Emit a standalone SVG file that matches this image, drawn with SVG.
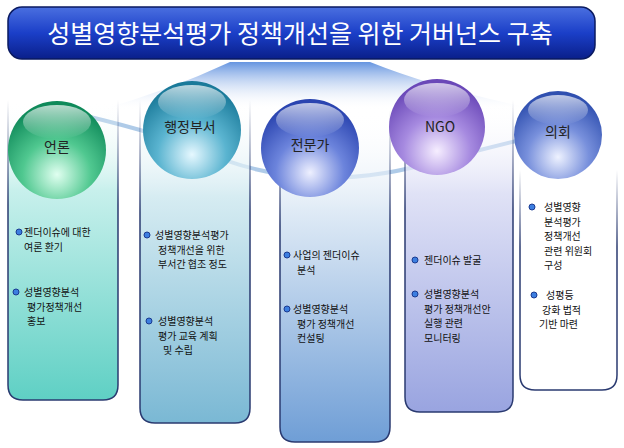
<svg xmlns="http://www.w3.org/2000/svg" width="624" height="448" viewBox="0 0 624 448">
<defs>
<linearGradient id="tg" x1="0" y1="0" x2="0" y2="1"><stop offset="0" stop-color="#4a6fe0"/><stop offset="0.5" stop-color="#1b3fc8"/><stop offset="1" stop-color="#0a1f8a"/></linearGradient>
<linearGradient id="fan" x1="0" y1="0" x2="0" y2="1"><stop offset="0" stop-color="#3f7ad8"/><stop offset="1" stop-color="#ffffff" stop-opacity="0"/></linearGradient>
<linearGradient id="c1" x1="0" y1="0" x2="0" y2="1"><stop offset="0" stop-color="#ffffff" stop-opacity="0"/><stop offset="0.3" stop-color="#c8f0ec"/><stop offset="1" stop-color="#5fd0c4"/></linearGradient>
<linearGradient id="c2" x1="0" y1="0" x2="0" y2="1"><stop offset="0" stop-color="#ffffff" stop-opacity="0"/><stop offset="0.3" stop-color="#d6ecf2"/><stop offset="1" stop-color="#7ab8d4"/></linearGradient>
<linearGradient id="c3" x1="0" y1="0" x2="0" y2="1"><stop offset="0" stop-color="#ffffff" stop-opacity="0"/><stop offset="0.3" stop-color="#e0ebf6"/><stop offset="1" stop-color="#6f9ed6"/></linearGradient>
<linearGradient id="c4" x1="0" y1="0" x2="0" y2="1"><stop offset="0" stop-color="#ffffff" stop-opacity="0"/><stop offset="0.3" stop-color="#e0e2f6"/><stop offset="1" stop-color="#99a4e0"/></linearGradient>
<linearGradient id="sk" x1="0" y1="0" x2="0" y2="1"><stop offset="0" stop-color="#2a3a70" stop-opacity="0"/><stop offset="0.35" stop-color="#2a3a70"/><stop offset="1" stop-color="#2a3a70"/></linearGradient>
<radialGradient id="s1" cx="0.5" cy="0.75" r="0.7"><stop offset="0" stop-color="#e0fff0"/><stop offset="0.5" stop-color="#50c890"/><stop offset="1" stop-color="#0f8a5a"/></radialGradient>
<radialGradient id="s2" cx="0.5" cy="0.75" r="0.7"><stop offset="0" stop-color="#e6f8ff"/><stop offset="0.5" stop-color="#5ab4d0"/><stop offset="1" stop-color="#1a7a9a"/></radialGradient>
<radialGradient id="s3" cx="0.5" cy="0.75" r="0.7"><stop offset="0" stop-color="#eef0ff"/><stop offset="0.5" stop-color="#6c84dc"/><stop offset="1" stop-color="#2a44b0"/></radialGradient>
<radialGradient id="s4" cx="0.5" cy="0.75" r="0.7"><stop offset="0" stop-color="#f6eeff"/><stop offset="0.5" stop-color="#a68ae0"/><stop offset="1" stop-color="#6a48b8"/></radialGradient>
<radialGradient id="s5" cx="0.5" cy="0.75" r="0.7"><stop offset="0" stop-color="#eef2ff"/><stop offset="0.5" stop-color="#7890dc"/><stop offset="1" stop-color="#3050b0"/></radialGradient>
<linearGradient id="hl" x1="0" y1="0" x2="0" y2="1"><stop offset="0" stop-color="#fff" stop-opacity="0.7"/><stop offset="1" stop-color="#fff" stop-opacity="0"/></linearGradient>
</defs>
<style>
text{font-family:"Noto Sans CJK KR","Liberation Sans",sans-serif;fill:#111;}
.t{font-size:10px;}
.h{font-size:14px;text-anchor:middle;fill:#222;}
.col{stroke:url(#sk);stroke-width:1.5;}
.b{fill:#3c7ee0;stroke:#1a3a90;stroke-width:1;}
</style>
<path d="M250 62 L230 62 Q170 90 100 110 L540 110 Q440 90 370 62 Z" fill="url(#fan)" opacity="0.8"/>
<g id="connectors"><path d="M60 110 Q150 130 200 150 Q310 200 440 160 Q520 140 560 130" fill="none" stroke="#7aa8d8" stroke-width="4" opacity="0.6"/></g>
<g id="title"><rect x="8" y="7" width="587" height="52" rx="14" fill="url(#tg)" stroke="#0a1a60" stroke-width="1.5"/>
<text x="300" y="43" font-size="25" text-anchor="middle" style="fill:#fff">성별영향분석평가 정책개선을 위한 거버넌스 구축</text></g>
<g id="n1"><path class="col" d="M8 100 V385 Q8 400 23 400 H103 Q118 400 118 385 V100" fill="url(#c1)"/>
<circle cx="57" cy="150" r="49" fill="url(#s1)"/><ellipse cx="57" cy="122" rx="34" ry="17" fill="url(#hl)"/>
<text class="h" x="57" y="152">언론</text>
<circle class="b" cx="19" cy="232" r="3"/><text class="t" x="24" y="236">젠더이슈에 대한</text><text class="t" x="24" y="250.5">여론 환기</text>
<circle class="b" cx="16" cy="292" r="3"/><text class="t" x="24" y="296">성별영향분석</text><text class="t" x="27" y="310.5">평가정책개선</text><text class="t" x="27" y="325">홍보</text></g>
<g id="n2"><path class="col" d="M140 100 V408 Q140 423 155 423 H235 Q250 423 250 408 V100" fill="url(#c2)"/>
<circle cx="192" cy="130" r="49" fill="url(#s2)"/><ellipse cx="192" cy="102" rx="34" ry="17" fill="url(#hl)"/>
<text class="h" x="190" y="132">행정부서</text>
<circle class="b" cx="147" cy="235" r="3"/><text class="t" x="155" y="239">성별영향분석평가</text><text class="t" x="158" y="253.5">정책개선을 위한</text><text class="t" x="158" y="268">부서간 협조 정도</text>
<circle class="b" cx="149" cy="321" r="3"/><text class="t" x="158" y="325">성별영향분석</text><text class="t" x="158" y="339.5">평가 교육 계획</text><text class="t" x="163" y="354">및 수립</text></g>
<g id="n3"><path class="col" d="M280 110 V427 Q280 442 295 442 H375 Q390 442 390 427 V110" fill="url(#c3)"/>
<circle cx="310" cy="148" r="49" fill="url(#s3)"/><ellipse cx="310" cy="120" rx="34" ry="17" fill="url(#hl)"/>
<text class="h" x="310" y="150">전문가</text>
<circle class="b" cx="287" cy="255" r="3"/><text class="t" x="293" y="259">사업의 젠더이슈</text><text class="t" x="297" y="273.5">분석</text>
<circle class="b" cx="287" cy="309" r="3"/><text class="t" x="293" y="313">성별영향분석</text><text class="t" x="297" y="327.5">평가 정책개선</text><text class="t" x="297" y="342">컨설팅</text></g>
<g id="n4"><path class="col" d="M405 100 V397 Q405 412 420 412 H498 Q513 412 513 397 V100" fill="url(#c4)"/>
<circle cx="437" cy="127" r="48" fill="url(#s4)"/><ellipse cx="437" cy="100" rx="33" ry="17" fill="url(#hl)"/>
<text class="h" x="440" y="132">NGO</text>
<circle class="b" cx="415" cy="260" r="3"/><text class="t" x="424" y="264">젠더이슈 발굴</text>
<circle class="b" cx="415" cy="294" r="3"/><text class="t" x="424" y="298">성별영향분석</text><text class="t" x="424" y="312.5">평가 정책개선안</text><text class="t" x="424" y="327">실행 관련</text><text class="t" x="424" y="341.5">모니터링</text></g>
<g id="n5"><path class="col" d="M520 170 V375 Q520 390 535 390 H602 Q617 390 617 375 V170" fill="#fff"/>
<circle cx="558" cy="135" r="44" fill="url(#s5)"/><ellipse cx="558" cy="110" rx="30" ry="15" fill="url(#hl)"/>
<text class="h" x="558" y="137">의회</text>
<circle class="b" cx="532" cy="207" r="3"/><text class="t" x="544" y="211">성별영향</text><text class="t" x="544" y="225.5">분석평가</text><text class="t" x="544" y="240">정책개선</text><text class="t" x="544" y="254.5">관련 위원회</text><text class="t" x="544" y="269">구성</text>
<circle class="b" cx="534" cy="295" r="3"/><text class="t" x="546" y="299">성평등</text><text class="t" x="542" y="313.5">강화 법적</text><text class="t" x="539" y="328">기반 마련</text></g>
</svg>
